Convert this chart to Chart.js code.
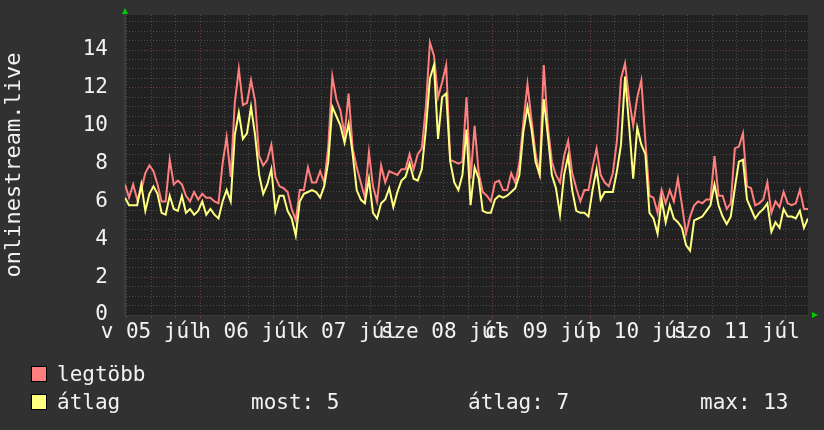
<!DOCTYPE html>
<html>
<head>
<meta charset="utf-8">
<script src="https://cdn.jsdelivr.net/npm/chart.js@4"></script>
<style>
  html, body { margin: 0; padding: 0; background: #313131; }
  canvas { display: block; }
</style>
</head>
<body>
<canvas id="chart" width="824" height="430"></canvas>
<script>
// hourly values, 05 júl ~05:30 -> 12 júl ~05:30
const legtobb = [
  6.9, 6.2, 6.9, 6.1, 6.6, 7.5, 7.9, 7.6, 6.9, 6.0,
  6.0, 8.2, 6.9, 7.1, 6.9, 6.3, 6.0, 6.5, 6.1, 6.4,
  6.2, 6.2, 6.0, 5.9, 8.0, 9.4, 7.3, 11.2, 13.0, 11.1,
  11.2, 12.4, 11.3, 8.4, 7.9, 8.2, 9.0, 7.3, 6.8, 6.7,
  6.5, 5.6, 5.0, 6.6, 6.6, 7.8, 7.0, 7.0, 7.6, 7.0,
  8.9, 12.6, 11.4, 10.8, 9.5, 11.7, 8.8, 7.8, 7.0, 6.2,
  8.6, 6.8, 6.0, 7.9, 7.0, 7.6, 7.5, 7.4, 7.7, 7.7,
  8.5, 7.7, 8.5, 8.8, 11.0, 14.4, 13.7, 11.5, 12.3, 13.2,
  8.2, 8.1, 8.0, 8.1, 11.5, 7.2, 10.0, 7.5, 6.5, 6.3,
  6.0, 7.0, 7.1, 6.6, 6.6, 7.5, 7.0, 8.0, 10.2, 12.2,
  10.3, 8.5, 7.5, 13.2, 10.0, 8.1, 7.4, 7.0, 8.4, 9.2,
  7.5, 6.7, 6.0, 6.6, 6.6, 7.8, 8.8, 7.4, 7.0, 6.8,
  7.5, 9.2, 12.5, 13.3, 11.4, 10.0, 11.5, 12.4, 9.2, 6.3,
  6.2, 5.4, 6.6, 5.9, 6.6, 6.0, 7.2, 5.8, 4.3, 5.2,
  5.8, 6.0, 5.9, 6.1, 6.1, 8.4, 6.3, 6.3, 5.6, 5.9,
  8.8, 8.9, 9.6, 6.8, 6.7, 5.8, 5.9, 6.1, 7.0, 5.4,
  6.0, 5.7, 6.5, 5.9, 5.8, 5.9, 6.6, 5.6, 5.6
];
const atlag = [
  6.2, 5.8, 5.8, 5.8, 6.9, 5.5, 6.4, 6.8, 6.4, 5.4,
  5.3, 6.3, 5.6, 5.5, 6.3, 5.4, 5.6, 5.3, 5.5, 6.0,
  5.3, 5.6, 5.3, 5.1, 6.0, 6.6, 6.0, 9.5, 10.7, 9.3,
  9.6, 11.0, 9.5, 7.4, 6.4, 6.9, 7.7, 5.5, 6.3, 6.3,
  5.5, 5.1, 4.2, 6.0, 6.4, 6.5, 6.6, 6.5, 6.2, 6.8,
  8.1, 11.0, 10.5, 10.0, 9.1, 10.1, 8.5, 6.6, 6.1, 5.9,
  7.2, 5.4, 5.1, 5.9, 6.1, 6.7, 5.7, 6.5, 7.1, 7.3,
  8.0, 7.2, 7.1, 7.7, 9.8, 12.5, 13.2, 9.3, 11.5, 11.7,
  8.1, 7.0, 6.6, 7.4, 9.8, 5.8, 7.8, 7.2, 5.5, 5.4,
  5.4, 6.1, 6.3, 6.2, 6.3, 6.5, 6.7, 7.4, 9.7, 11.0,
  9.8, 8.1, 7.4, 11.4, 9.5, 7.4, 6.7, 5.3, 7.4, 8.4,
  6.6, 5.5, 5.4, 5.4, 5.2, 6.6, 7.7, 6.1, 6.5, 6.5,
  6.5, 7.6, 9.0, 12.6, 10.0, 7.2, 9.9, 9.0, 8.5, 5.4,
  5.1, 4.3, 6.1, 4.9, 5.8, 5.1, 4.9, 4.6, 3.7, 3.4,
  5.0, 5.1, 5.2, 5.5, 5.8, 6.9, 5.8, 5.2, 4.8, 5.2,
  6.7, 8.1, 8.2, 6.1, 5.6, 5.1, 5.4, 5.6, 5.9, 4.4,
  4.9, 4.6, 5.6, 5.2, 5.2, 5.1, 5.5, 4.6, 5.1
];
const dayLabels = ['v 05 júl', 'h 06 júl', 'k 07 júl', 'sze 08 júl', 'cs 09 júl', 'p 10 júl', 'szo 11 júl'];
const yLabels = [0, 2, 4, 6, 8, 10, 12, 14];

const FONT = '"DejaVu Sans Mono", monospace';
const firstGrid = 0.45; // first 6h gridline, in hours from the left edge

// stats shown in the legend
const most = Math.round(atlag[atlag.length - 1]);
const avg = Math.round(atlag.reduce((a, b) => a + b, 0) / atlag.length);
const max = Math.round(Math.max(...atlag));

const rrdPlugin = {
    id: 'rrd',
    beforeDraw(chart) {
        const { ctx, chartArea: a } = chart;
        ctx.save();
        ctx.fillStyle = '#313131';
        ctx.fillRect(0, 0, chart.width, chart.height);
        ctx.fillStyle = '#212121';
        ctx.fillRect(a.left, a.top, a.right - a.left, a.bottom - a.top);
        ctx.restore();
    },
    afterDraw(chart) {
        const { ctx, chartArea: a } = chart;
        ctx.save();
        // green axis arrows
        ctx.fillStyle = '#00cc00';
        ctx.beginPath();
        ctx.moveTo(a.left - 3, a.top - 1);
        ctx.lineTo(a.left + 3, a.top - 1);
        ctx.lineTo(a.left, a.top - 7);
        ctx.fill();
        ctx.beginPath();
        ctx.moveTo(a.right + 4, a.bottom - 3);
        ctx.lineTo(a.right + 4, a.bottom + 3);
        ctx.lineTo(a.right + 10, a.bottom);
        ctx.fill();

        // legend
        const rows = [
            { color: '#ff7f7f', text: 'legtöbb', y: 381 },
            { color: '#ffff80', text: 'átlag', y: 409 }
        ];
        ctx.font = '21px ' + FONT;
        ctx.textBaseline = 'alphabetic';
        rows.forEach(r => {
            ctx.fillStyle = r.color;
            ctx.fillRect(31, r.y - 15, 16, 16);
            ctx.strokeStyle = '#000';
            ctx.lineWidth = 1;
            ctx.strokeRect(31.5, r.y - 14.5, 15, 15);
            ctx.fillStyle = '#f2f2f2';
            ctx.fillText(r.text, 57, r.y);
        });
        ctx.fillText('most: ' + most, 251, 409);
        ctx.fillText('átlag: ' + avg, 468, 409);
        ctx.fillText('max: ' + max, 700, 409);
        ctx.restore();
    }
};

new Chart(document.getElementById('chart'), {
    type: 'line',
    data: {
        datasets: [{
            label: 'legtöbb',
            data: legtobb.map((v, i) => ({ x: i, y: v })),
            borderColor: '#ff7f7f',
            borderWidth: 2,
            pointRadius: 0,
            order: 2
        }, {
            label: 'átlag',
            data: atlag.map((v, i) => ({ x: i, y: v })),
            borderColor: '#ffff80',
            borderWidth: 2,
            pointRadius: 0,
            order: 1
        }]
    },
    options: {
        responsive: false,
        animation: false,
        layout: { padding: { top: 15, right: 16, left: 0, bottom: 0 } },
        plugins: {
            legend: { display: false },
            tooltip: { enabled: false }
        },
        scales: {
            x: {
                type: 'linear',
                min: 0,
                max: legtobb.length - 1,
                afterBuildTicks(scale) {
                    const ticks = [];
                    for (let k = 0; k < 28; k++) ticks.push({ value: firstGrid + 6 * k });
                    scale.ticks = ticks;
                },
                afterFit(scale) {
                    scale.height = 115;
                    scale.paddingLeft = 0;
                    scale.paddingRight = 0;
                },
                grid: {
                    color: c => (c.index % 4 === 3 ? '#703c3c' : '#4c4c4c'),
                    lineWidth: 1,
                    drawTicks: true,
                    tickLength: 3
                },
                border: { display: true, color: '#3a3a3a', dash: [1, 2] },
                ticks: {
                    autoSkip: false,
                    maxRotation: 0,
                    padding: 2,
                    color: '#f2f2f2',
                    font: { family: FONT, size: 21 },
                    callback: (v, i) => (i % 4 === 1 ? dayLabels[(i - 1) / 4] : '')
                }
            },
            y: {
                min: 0,
                max: 15.85,
                afterBuildTicks(scale) {
                    const ticks = [];
                    for (let v = 0; v <= 15.5; v += 0.5) ticks.push({ value: v });
                    scale.ticks = ticks;
                },
                afterFit(scale) {
                    scale.width = 125;
                    scale.paddingTop = 0;
                    scale.paddingBottom = 0;
                },
                grid: {
                    color: c => (c.tick.value === 0 ? 'rgba(0,0,0,0)' : (c.tick.value % 2 === 0 ? '#703c3c' : '#4c4c4c')),
                    lineWidth: 1,
                    drawTicks: false
                },
                border: { display: true, color: '#3c3c3c', width: 2, dash: [1, 2] },
                ticks: {
                    autoSkip: false,
                    padding: 17,
                    color: '#f2f2f2',
                    font: { family: FONT, size: 21 },
                    callback: v => (yLabels.includes(v) ? String(v) : '')
                },
                title: {
                    display: true,
                    text: 'onlinestream.live',
                    color: '#f2f2f2',
                    font: { family: FONT, size: 22 },
                    padding: { top: 1, bottom: 0 }
                }
            }
        }
    },
    plugins: [rrdPlugin]
});
</script>
</body>
</html>
